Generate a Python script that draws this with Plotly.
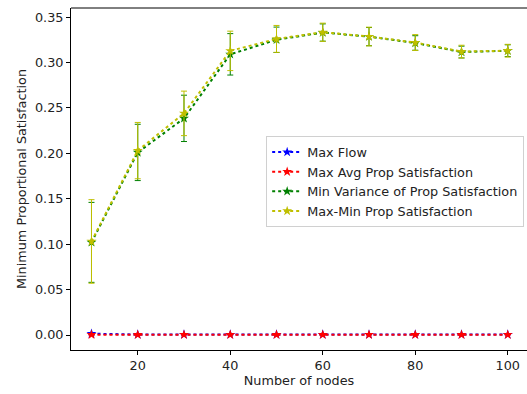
import plotly.graph_objects as go

nodes = [10, 20, 30, 40, 50, 60, 70, 80, 90, 100]

maxflow_mean = [0.0015, 0.0005, 0.0005, 0.0005, 0.0005, 0.0005, 0.0005, 0.0005, 0.0005, 0.0005]
maxflow_err = [0.001, 0.0003, 0.0003, 0.0003, 0.0003, 0.0003, 0.0003, 0.0003, 0.0003, 0.0003]

maxavg_mean = [0.0003, 0.0003, 0.0003, 0.0003, 0.0003, 0.0003, 0.0003, 0.0003, 0.0003, 0.0003]
maxavg_err = [0.0005, 0.0003, 0.0003, 0.0003, 0.0003, 0.0003, 0.0003, 0.0003, 0.0003, 0.0003]

minvar_mean = [0.102, 0.201, 0.2385, 0.309, 0.325, 0.333, 0.3285, 0.3215, 0.3115, 0.313]
minvar_err = [0.044, 0.031, 0.0255, 0.0228, 0.014, 0.0095, 0.010, 0.008, 0.0065, 0.0065]

maxmin_mean = [0.103, 0.203, 0.244, 0.3128, 0.326, 0.3333, 0.3286, 0.322, 0.312, 0.313]
maxmin_err = [0.046, 0.031, 0.0245, 0.0217, 0.0148, 0.010, 0.0103, 0.0087, 0.007, 0.007]

series = [
    ("Max Flow", maxflow_mean, maxflow_err, "rgb(0,0,255)"),
    ("Max Avg Prop Satisfaction", maxavg_mean, maxavg_err, "rgb(255,0,0)"),
    ("Min Variance of Prop Satisfaction", minvar_mean, minvar_err, "rgb(0,128,0)"),
    ("Max-Min Prop Satisfaction", maxmin_mean, maxmin_err, "rgb(191,191,0)"),
]

fig = go.Figure()
for name, ys, errs, color in series:
    fig.add_trace(go.Scatter(
        x=nodes, y=ys, name=name, mode="lines+markers",
        line=dict(color=color, width=2, dash="dot"),
        marker=dict(symbol="star", size=7.5, color=color, line=dict(width=0)),
        error_y=dict(type="data", array=errs, visible=True, color=color,
                     thickness=1, width=3),
    ))

font = "DejaVu Sans, sans-serif"
fs = 12.8
fig.add_shape(type="line", xref="paper", yref="paper", x0=0, x1=1, y0=1, y1=1,
              line=dict(color="black", width=1), layer="above")
fig.update_layout(
    width=527, height=394,
    margin=dict(l=71, r=0, t=8, b=44),
    paper_bgcolor="white", plot_bgcolor="white",
    font=dict(family=font, size=fs, color="#222"),
    showlegend=True,
    legend=dict(x=0.428, y=0.625, xanchor="left", yanchor="top",
                bgcolor="rgba(255,255,255,0.8)", bordercolor="#d0d0d0",
                borderwidth=1, font=dict(family=font, size=fs, color="#222"),
                tracegroupgap=0, itemwidth=30),
    xaxis=dict(range=[5.57, 104.16], tickvals=[20, 40, 60, 80, 100],
               showgrid=False, zeroline=False, showline=True, linecolor="black",
               linewidth=1, mirror=False, ticks="outside", ticklen=4,
               tickcolor="black",
               title=dict(text="Number of nodes", standoff=2,
                          font=dict(family=font, size=fs))),
    yaxis=dict(range=[-0.0165, 0.36],
               tickvals=[0.0, 0.05, 0.10, 0.15, 0.20, 0.25, 0.30, 0.35],
               tickformat=".2f",
               showgrid=False, zeroline=False, showline=True, linecolor="black",
               linewidth=1, mirror=False, ticks="outside", ticklen=4,
               tickcolor="black",
               title=dict(text="Minimum Proportional Satisfaction", standoff=5,
                          font=dict(family=font, size=fs))),
)

fig.write_html("out.html")
